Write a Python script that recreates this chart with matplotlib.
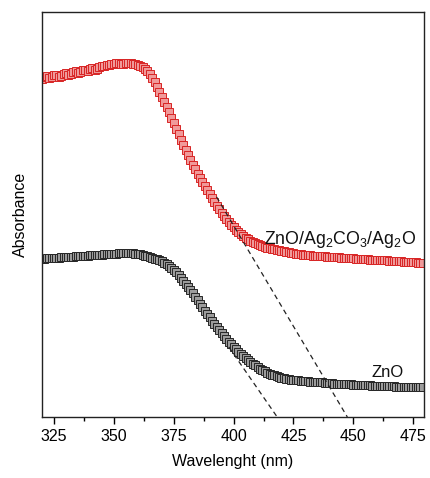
import numpy as np
import matplotlib
matplotlib.use("Agg")
import matplotlib.pyplot as plt
from matplotlib.ticker import MultipleLocator, NullLocator

plt.rcParams["font.family"] = ["Liberation Sans", "DejaVu Sans"]
plt.rcParams["mathtext.fontset"] = "custom"
plt.rcParams["mathtext.rm"] = "Liberation Sans"
plt.rcParams["mathtext.it"] = "Liberation Sans"

# wavelength grid (nm), 1 nm steps
wavelength = np.arange(320, 480, 1)

# ZnO/Ag2CO3/Ag2O absorbance (a.u.)
abs_composite = [
    3.38, 3.40, 3.41, 3.39, 3.40, 3.42, 3.42, 3.40, 3.41, 3.43,
    3.44, 3.42, 3.43, 3.45, 3.46, 3.44, 3.45, 3.47, 3.47, 3.46,
    3.48, 3.49, 3.47, 3.48, 3.50, 3.51, 3.51, 3.52, 3.52, 3.53,
    3.53, 3.54, 3.54, 3.53, 3.53, 3.54, 3.54, 3.54, 3.53, 3.53,
    3.52, 3.51, 3.50, 3.48, 3.46, 3.43, 3.39, 3.35, 3.30, 3.25,
    3.20, 3.15, 3.10, 3.05, 2.99, 2.94, 2.88, 2.83, 2.77, 2.72,
    2.67, 2.62, 2.57, 2.52, 2.48, 2.43, 2.39, 2.35, 2.31, 2.27,
    2.23, 2.19, 2.15, 2.11, 2.08, 2.04, 2.01, 1.98, 1.95, 1.92,
    1.90, 1.87, 1.85, 1.83, 1.81, 1.79, 1.78, 1.76, 1.75, 1.74,
    1.73, 1.72, 1.71, 1.70, 1.69, 1.685, 1.68, 1.675, 1.67, 1.665,
    1.66, 1.655, 1.65, 1.645, 1.64, 1.635, 1.63, 1.628, 1.625, 1.622,
    1.62, 1.618, 1.615, 1.612, 1.61, 1.61, 1.61, 1.608, 1.605, 1.602,
    1.60, 1.60, 1.60, 1.598, 1.595, 1.592, 1.59, 1.59, 1.59, 1.588,
    1.585, 1.582, 1.58, 1.58, 1.58, 1.578, 1.575, 1.572, 1.57, 1.57,
    1.57, 1.57, 1.57, 1.568, 1.565, 1.562, 1.56, 1.56, 1.56, 1.558,
    1.555, 1.552, 1.55, 1.55, 1.55, 1.548, 1.545, 1.542, 1.54, 1.54,
]

# ZnO absorbance (a.u.)
abs_zno = [
    1.58, 1.582, 1.585, 1.588, 1.59, 1.59, 1.59, 1.592, 1.595, 1.598,
    1.60, 1.60, 1.60, 1.602, 1.605, 1.608, 1.61, 1.61, 1.61, 1.612,
    1.615, 1.618, 1.62, 1.62, 1.62, 1.622, 1.625, 1.628, 1.63, 1.63,
    1.63, 1.632, 1.635, 1.635, 1.635, 1.635, 1.635, 1.635, 1.635, 1.632,
    1.63, 1.625, 1.62, 1.612, 1.605, 1.598, 1.59, 1.582, 1.575, 1.565,
    1.555, 1.54, 1.525, 1.508, 1.49, 1.468, 1.445, 1.418, 1.39, 1.36,
    1.33, 1.30, 1.27, 1.235, 1.20, 1.165, 1.13, 1.095, 1.06, 1.028,
    0.995, 0.962, 0.93, 0.90, 0.87, 0.84, 0.81, 0.78, 0.75, 0.725,
    0.70, 0.675, 0.65, 0.628, 0.605, 0.585, 0.565, 0.548, 0.53, 0.515,
    0.50, 0.485, 0.47, 0.458, 0.445, 0.435, 0.425, 0.418, 0.41, 0.402,
    0.395, 0.39, 0.385, 0.38, 0.375, 0.372, 0.37, 0.368, 0.365, 0.362,
    0.36, 0.358, 0.355, 0.352, 0.35, 0.35, 0.35, 0.348, 0.345, 0.342,
    0.34, 0.338, 0.335, 0.335, 0.335, 0.332, 0.33, 0.33, 0.33, 0.328,
    0.325, 0.325, 0.325, 0.322, 0.32, 0.32, 0.32, 0.318, 0.315, 0.315,
    0.315, 0.312, 0.31, 0.31, 0.31, 0.31, 0.31, 0.308, 0.305, 0.305,
    0.305, 0.302, 0.30, 0.30, 0.30, 0.30, 0.30, 0.30, 0.30, 0.30,
]

# band-edge tangent lines: x pair, y pair
tangent_composite = ([392.9, 447.5], [2.20, 0.0])
tangent_zno = ([398.0, 418.2], [0.70, 0.0])

fig = plt.figure(figsize=(4.30, 4.78), dpi=100)
ax = fig.add_axes([0.0977, 0.1276, 0.8883, 0.8474])

ax.plot(wavelength, abs_composite, linestyle="none", marker="s",
        markersize=6.3, markerfacecolor="#f09a9a", markeredgecolor="#d82424",
        markeredgewidth=0.7)
ax.plot(wavelength, abs_zno, linestyle="none", marker="s",
        markersize=6.3, markerfacecolor="#9c9c9c", markeredgecolor="#262626",
        markeredgewidth=0.7)

ax.plot(*tangent_composite, color="#222222", linestyle=(0, (4, 3)), linewidth=0.9)
ax.plot(*tangent_zno, color="#222222", linestyle=(0, (4, 3)), linewidth=0.9)

ax.text(476.3, 1.73, "ZnO/Ag$_2$CO$_3$/Ag$_2$O", fontsize=12.8,
        ha="right", va="baseline", color="#111111")
ax.text(471, 0.40, "ZnO", fontsize=12, ha="right", va="baseline",
        color="#111111")

ax.set_xlim(320, 479.5)
ax.set_ylim(0, 4.05)
ax.xaxis.set_major_locator(MultipleLocator(25))
ax.xaxis.set_minor_locator(MultipleLocator(12.5))
ax.yaxis.set_major_locator(NullLocator())
ax.tick_params(axis="x", which="major", direction="out", length=5,
               width=1.0, labelsize=11.5, pad=3.5)
ax.tick_params(axis="x", which="minor", direction="out", length=3, width=1.0)

for sp in ax.spines.values():
    sp.set_linewidth(1.0)
    sp.set_color("#222222")

ax.set_xlabel("Wavelenght (nm)", fontsize=11.5, labelpad=7)
ax.set_ylabel("Absorbance", fontsize=11.5, labelpad=10)

fig.savefig("out.png", dpi=100)
